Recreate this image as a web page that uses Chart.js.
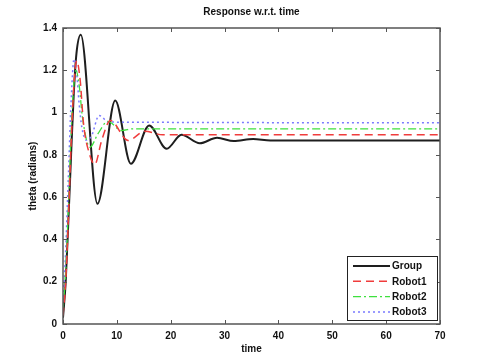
<!DOCTYPE html>
<html>
<head>
<meta charset="utf-8">
<script src="https://cdn.jsdelivr.net/npm/chart.js@4/dist/chart.umd.min.js"></script>
<style>
html,body{margin:0;padding:0;background:#fff;}
#c{display:block;}
</style>
</head>
<body>
<canvas id="c" width="485" height="364"></canvas>
<script>
// ---- data ----
const titleText = "Response w.r.t. time";
const xLabel = "time";
const yLabel = "theta (radians)";
const seriesNames = ["Group", "Robot1", "Robot2", "Robot3"];
const xTicks = [0, 10, 20, 30, 40, 50, 60, 70];
const yTicks = [0, 0.2, 0.4, 0.6, 0.8, 1, 1.2, 1.4];

const tGroup = [0, 0.5, 1, 1.5, 2, 2.5, 3.3, 6.4, 9.7, 12.6, 16.0, 19.25, 22.0, 25.4, 28.6, 31.7, 35.3, 38.5, 70];
const vGroup = [0.03, 0.2, 0.49, 0.8, 1.09, 1.28, 1.368, 0.569, 1.057, 0.758, 0.939, 0.829, 0.895, 0.855, 0.881, 0.865, 0.875, 0.868, 0.868];

const tRobot1 = [0, 0.5, 1, 1.5, 2, 2.55, 3.2, 3.8, 4.9, 5.9, 7.2, 8.8, 12.1, 15.2, 18.5, 70];
const vRobot1 = [0.04, 0.2, 0.5, 0.85, 1.12, 1.245, 1.15, 0.95, 0.805, 0.755, 0.87, 0.962, 0.868, 0.912, 0.895, 0.895];

const tRobot2 = [0, 0.5, 1, 1.5, 2, 2.4, 3.0, 3.6, 5.0, 6.5, 8.3, 10.9, 13, 70];
const vRobot2 = [0.06, 0.25, 0.55, 0.9, 1.13, 1.2, 1.13, 0.98, 0.836, 0.9, 0.958, 0.915, 0.923, 0.923];

const tRobot3 = [0, 0.5, 1, 1.5, 2.05, 2.5, 3.0, 3.5, 4.3, 5.3, 6.7, 8.5, 70];
const vRobot3 = [0.08, 0.35, 0.7, 1.05, 1.253, 1.2, 1.04, 0.93, 0.87, 0.89, 0.986, 0.955, 0.952];

// ---- build ----
function pts(t, v) { return t.map((x, i) => ({ x: x, y: v[i] })); }
const FONT = "'Liberation Sans', Arial, sans-serif";

const styles = [
  { color: '#1e1e1e', width: 2, dash: [] },
  { color: '#f03c3c', width: 1.5, dash: [8, 5] },
  { color: '#3ee03e', width: 1.3, dash: [8, 3, 2, 3] },
  { color: '#7a7aff', width: 1.5, dash: [2, 3] }
];
const seriesData = [pts(tGroup, vGroup), pts(tRobot1, vRobot1), pts(tRobot2, vRobot2), pts(tRobot3, vRobot3)];

const datasets = seriesNames.map((n, i) => ({
  label: n,
  data: seriesData[i],
  borderColor: styles[i].color,
  borderWidth: styles[i].width,
  borderDash: styles[i].dash,
  pointRadius: 0,
  fill: false,
  cubicInterpolationMode: 'monotone',
  order: i === 0 ? 4 : i
}));

const framePlugin = {
  id: 'frame',
  afterDatasetsDraw(chart) {
    const ctx = chart.ctx, a = chart.chartArea;
    const xs = chart.scales.x, ys = chart.scales.y;
    ctx.save();
    ctx.strokeStyle = '#555';
    ctx.lineWidth = 1.5;
    ctx.setLineDash([]);
    ctx.strokeRect(a.left, a.top, a.right - a.left, a.bottom - a.top);
    ctx.lineWidth = 1;
    ctx.beginPath();
    xTicks.forEach(v => {
      const px = Math.round(xs.getPixelForValue(v)) + 0.5;
      ctx.moveTo(px, a.bottom); ctx.lineTo(px, a.bottom - 4);
      ctx.moveTo(px, a.top); ctx.lineTo(px, a.top + 4);
    });
    yTicks.forEach(v => {
      const py = Math.round(ys.getPixelForValue(v)) + 0.5;
      ctx.moveTo(a.left, py); ctx.lineTo(a.left + 4, py);
      ctx.moveTo(a.right, py); ctx.lineTo(a.right - 4, py);
    });
    ctx.stroke();

    // legend box (bottom right, inside plot)
    const bx = 347, by = 256, bw = 90, bh = 64;
    ctx.fillStyle = '#fff';
    ctx.fillRect(bx, by, bw, bh);
    ctx.strokeStyle = '#222';
    ctx.lineWidth = 1;
    ctx.strokeRect(bx + 0.5, by + 0.5, bw, bh);
    ctx.font = 'bold 10px ' + FONT;
    ctx.textBaseline = 'middle';
    ctx.textAlign = 'left';
    seriesNames.forEach((n, i) => {
      const y = by + 10 + i * 15.3;
      ctx.strokeStyle = styles[i].color;
      ctx.lineWidth = styles[i].width;
      ctx.setLineDash(styles[i].dash);
      ctx.beginPath();
      ctx.moveTo(bx + 6, y); ctx.lineTo(bx + 43, y);
      ctx.stroke();
      ctx.setLineDash([]);
      ctx.fillStyle = '#111';
      ctx.fillText(n, bx + 45, y + 0.5);
    });
    ctx.restore();
  }
};

new Chart(document.getElementById('c'), {
  type: 'line',
  data: { datasets: datasets },
  plugins: [framePlugin],
  options: {
    responsive: false,
    animation: false,
    devicePixelRatio: 1,
    layout: { padding: { top: 0, right: 45, left: 0, bottom: 0 } },
    plugins: {
      legend: { display: false },
      tooltip: { enabled: false },
      title: {
        display: true,
        fullSize: false,
        text: titleText,
        color: '#111',
        font: { family: FONT, size: 10, weight: 'bold', lineHeight: 1.2 },
        padding: { top: 6, bottom: 10 }
      }
    },
    scales: {
      x: {
        type: 'linear',
        min: 0, max: 70,
        grid: { display: false, drawTicks: false },
        border: { display: false },
        afterBuildTicks: s => { s.ticks = xTicks.map(v => ({ value: v })); },
        afterFit: s => { s.height = 40; },
        ticks: {
          color: '#111', padding: 6, maxRotation: 0,
          font: { family: FONT, size: 10, weight: 'bold' },
          callback: v => String(v)
        },
        title: {
          display: true, text: xLabel, color: '#111',
          font: { family: FONT, size: 10, weight: 'bold', lineHeight: 1.2 },
          padding: { top: 0, bottom: 9 }
        }
      },
      y: {
        type: 'linear',
        min: 0, max: 1.4,
        grid: { display: false, drawTicks: false },
        border: { display: false },
        afterBuildTicks: s => { s.ticks = yTicks.map(v => ({ value: v })); },
        afterFit: s => { s.width = 63; },
        ticks: {
          color: '#111', padding: 6,
          font: { family: FONT, size: 10, weight: 'bold' },
          callback: v => String(Math.round(v * 10) / 10)
        },
        title: {
          display: true, text: yLabel, color: '#111',
          font: { family: FONT, size: 10, weight: 'bold', lineHeight: 1.2 },
          padding: { top: 27, bottom: 0 }
        }
      }
    }
  }
});
</script>
</body>
</html>
